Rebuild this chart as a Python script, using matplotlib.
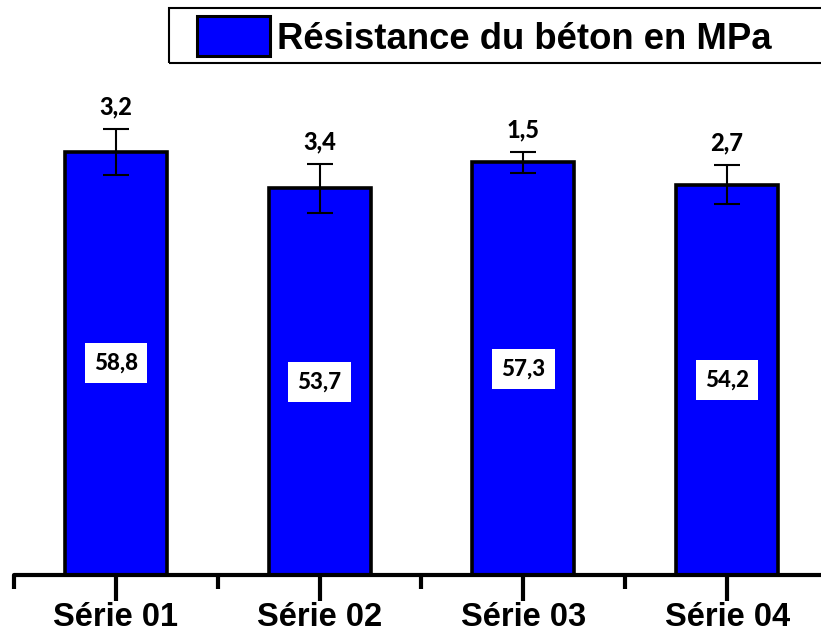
import matplotlib
matplotlib.use("Agg")
import matplotlib.pyplot as plt
from matplotlib.patches import Patch, Rectangle
from matplotlib.ticker import FixedLocator

categories = ["Série 01", "Série 02", "Série 03", "Série 04"]
resistance = [58.8, 53.7, 57.3, 54.2]
ecart = [3.2, 3.4, 1.5, 2.7]
legend_label = "Résistance du béton en MPa"


def fr(v):
    return f"{v:.1f}".replace(".", ",")


W, H = 821, 634
fig = plt.figure(figsize=(W / 100, H / 100), dpi=100)
ax = fig.add_axes([14 / W, (H - 575) / H, (W - 14) / W, 575 / H])

x = list(range(len(categories)))
ax.bar(x, resistance, width=0.5, color="#0000FF", edgecolor="black",
       linewidth=2.6, zorder=2)
ax.errorbar(x, resistance, yerr=ecart, fmt="none", ecolor="black",
            elinewidth=1.5, capsize=9.7, capthick=1.5, zorder=3)

for xi, v, e in zip(x, resistance, ecart):
    ax.annotate(fr(e), (xi, v + e), xytext=(0, 10.5), textcoords="offset points",
                ha="center", va="baseline", fontsize=17, fontweight="black",
                family="Lato", zorder=4)
    ax.text(xi, v / 2, fr(v), ha="center", va="center", fontsize=16,
            fontweight="black", family="Lato", zorder=4,
            bbox=dict(boxstyle="square,pad=0.42", facecolor="white",
                      edgecolor="none"))

ax.set_xlim(-0.5, (W - 116) / 203.7)
ax.set_ylim(0, 575 / 7.2)

for s in ("left", "right", "top"):
    ax.spines[s].set_visible(False)
ax.spines["bottom"].set_linewidth(3)
ax.spines["bottom"].set_capstyle("round")
ax.set_yticks([])
ax.set_xticks(x)
ax.set_xticklabels(categories, family="Liberation Sans", fontweight="bold",
                   fontsize=23.5)
ax.xaxis.set_minor_locator(FixedLocator([i - 0.5 for i in range(len(categories) + 1)]))
ax.tick_params(axis="x", which="major", length=19, width=3, pad=0.5)
ax.tick_params(axis="x", which="minor", length=10, width=3)
for t in ax.xaxis.get_major_ticks() + ax.xaxis.get_minor_ticks():
    t.tick1line.set_solid_capstyle("round")

# legend with a frame that runs off the right edge
fig.legend(handles=[Patch(facecolor="#0000FF", edgecolor="black", linewidth=2.2,
                          label=legend_label)],
           loc="center left", bbox_to_anchor=(197 / W, 1 - 36.5 / H),
           frameon=False, borderpad=0, borderaxespad=0,
           handlelength=2.0, handleheight=1.3, handletextpad=0.2,
           prop=dict(family="Liberation Sans", weight="bold", size=26.3))
fig.patches.append(Rectangle((169 / W, 1 - 63 / H), 700 / W, 55 / H,
                             transform=fig.transFigure, fill=False,
                             edgecolor="black", linewidth=1.5))

fig.savefig("out.png", dpi=100)
